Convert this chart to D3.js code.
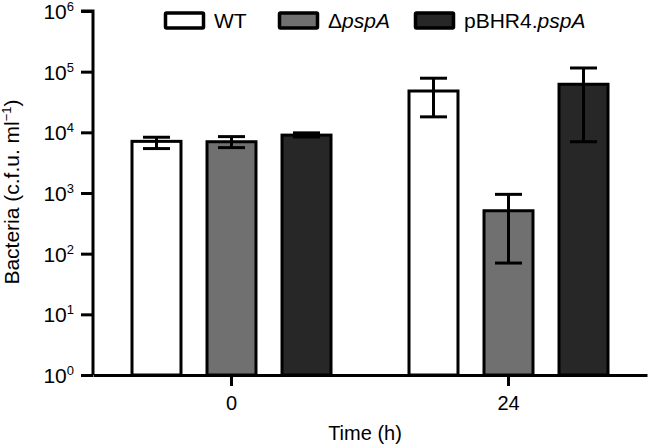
<!DOCTYPE html>
<html>
<head>
<meta charset="utf-8">
<script src="https://cdn.jsdelivr.net/npm/d3@7"></script>
<style>
  html, body { margin: 0; padding: 0; background: #fff; }
  svg { display: block; font-family: "Liberation Sans", Arial, Helvetica, sans-serif; }
</style>
</head>
<body>
<svg id="chart" width="648" height="447"></svg>
<script>
// ---- data ----
const times = ["0", "24"];
const strains = ["WT", "ΔpspA", "pBHR4.pspA"];
const wtMean = [7100, 48000];
const wtLow = [5400, 18000];
const wtHigh = [8300, 78000];
const pspAMean = [7000, 510];
const pspALow = [5600, 70];
const pspAHigh = [8500, 950];
const pbhrMean = [9000, 62000];
const pbhrLow = [8400, 7000];
const pbhrHigh = [9800, 115000];
const yTickExps = [0, 1, 2, 3, 4, 5, 6];
const fills = ["#ffffff", "#707070", "#272727"];

const series = [
  { name: strains[0], mean: wtMean, low: wtLow, high: wtHigh, fill: fills[0] },
  { name: strains[1], mean: pspAMean, low: pspALow, high: pspAHigh, fill: fills[1] },
  { name: strains[2], mean: pbhrMean, low: pbhrLow, high: pbhrHigh, fill: fills[2] }
];

const svg = d3.select("#chart");
const axisX = 93, axisRight = 647, yBottom = 375, yTop = 11;

const x = d3.scaleBand().domain(times).range([axisX, axisRight]).padding(0);
const inner = d3.scaleBand().domain(strains).range([-99.5, 99.5]).paddingInner(0.347).paddingOuter(0);
const y = d3.scaleLog().domain([1, 1e6]).range([yBottom, yTop]);

const barW = inner.bandwidth();

// bars
series.forEach((s, si) => {
  const g = svg.append("g");
  times.forEach((t, ti) => {
    const cx = x(t) + x.bandwidth() / 2 + inner(s.name) + barW / 2;
    g.append("rect")
      .attr("x", cx - barW / 2)
      .attr("y", y(s.mean[ti]))
      .attr("width", barW)
      .attr("height", y(1) - y(s.mean[ti]))
      .attr("fill", s.fill)
      .attr("stroke", "#000")
      .attr("stroke-width", 3);
    // error bars
    const capW = 27;
    g.append("line")
      .attr("x1", cx).attr("x2", cx)
      .attr("y1", y(s.low[ti])).attr("y2", y(s.high[ti]))
      .attr("stroke", "#000").attr("stroke-width", 3);
    [s.low[ti], s.high[ti]].forEach(v => {
      g.append("line")
        .attr("x1", cx - capW / 2).attr("x2", cx + capW / 2)
        .attr("y1", y(v)).attr("y2", y(v))
        .attr("stroke", "#000").attr("stroke-width", 3);
    });
  });
});

// y axis
const yAxis = d3.axisLeft(y)
  .tickValues(yTickExps.map(e => Math.pow(10, e)))
  .tickSize(12)
  .tickFormat("");
const yg = svg.append("g").attr("transform", `translate(${axisX},0)`).call(yAxis);
yg.select(".domain").attr("d", `M-12,${yTop}H0V${yBottom}`).attr("stroke", "#000").attr("stroke-width", 3);
yg.selectAll(".tick line").attr("stroke", "#000").attr("stroke-width", 3);

yTickExps.forEach(e => {
  const t = svg.append("text")
    .attr("x", 74)
    .attr("y", y(Math.pow(10, e)) + 8)
    .attr("text-anchor", "end")
    .attr("font-size", 21)
    .attr("fill", "#000");
  t.append("tspan").text("10");
  t.append("tspan").attr("dy", -8).attr("font-size", 13).text(String(e));
});

// x axis
const xAxis = d3.axisBottom(x).tickSize(11).tickSizeOuter(0).tickFormat("");
const xg = svg.append("g").attr("transform", `translate(0,${yBottom})`).call(xAxis);
xg.select(".domain").attr("stroke", "#000").attr("stroke-width", 3);
xg.selectAll(".tick line").attr("stroke", "#000").attr("stroke-width", 3);

times.forEach(t => {
  svg.append("text")
    .attr("x", x(t) + x.bandwidth() / 2)
    .attr("y", 410)
    .attr("text-anchor", "middle")
    .attr("font-size", 20)
    .text(t);
});

// axis titles
svg.append("text")
  .attr("x", 365).attr("y", 440)
  .attr("text-anchor", "middle")
  .attr("font-size", 20)
  .text("Time (h)");

const yt = svg.append("text")
  .attr("transform", "translate(19,192) rotate(-90)")
  .attr("text-anchor", "middle")
  .attr("font-size", 21);
yt.append("tspan").text("Bacteria (c.f.u. ml");
yt.append("tspan").attr("dy", -8).attr("font-size", 13).text("−1");
yt.append("tspan").attr("dy", 8).text(")");

// legend
const legendX = [164, 278, 414];
const legend = svg.append("g");
series.forEach((s, i) => {
  legend.append("rect")
    .attr("x", legendX[i] + 1.5).attr("y", 13)
    .attr("width", 38).attr("height", 15)
    .attr("fill", s.fill)
    .attr("stroke", "#000").attr("stroke-width", 3.5)
    .attr("rx", 1);
  const t = legend.append("text")
    .attr("x", legendX[i] + 50).attr("y", 28)
    .attr("font-size", 21);
  if (i === 0) {
    t.text("WT");
  } else if (i === 1) {
    t.append("tspan").text("Δ");
    t.append("tspan").attr("font-style", "italic").text("pspA");
  } else {
    t.append("tspan").text("pBHR4.");
    t.append("tspan").attr("font-style", "italic").text("pspA");
  }
});
</script>
</body>
</html>
